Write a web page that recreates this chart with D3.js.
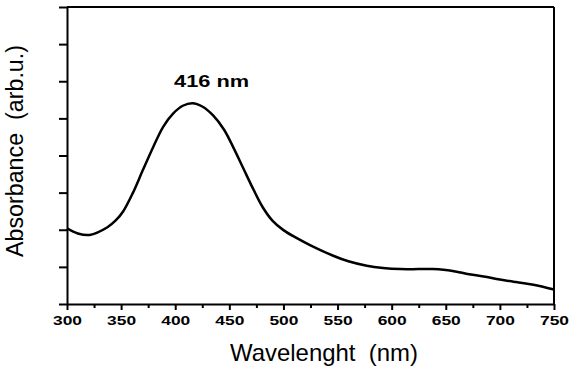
<!DOCTYPE html>
<html>
<head>
<meta charset="utf-8">
<script src="https://cdn.jsdelivr.net/npm/d3@7"></script>
<style>
  body { margin: 0; background: #fff; }
  text { font-family: "Liberation Sans", Arial, sans-serif; white-space: pre; }
</style>
</head>
<body>
<div id="chart"></div>
<script>
// absorbance spectrum
var wavelength = [300, 310, 321, 337, 345, 352, 361, 370, 380, 389, 398, 407, 416, 425, 435, 445, 454, 463, 472, 481, 490, 500, 512, 525, 546, 560, 577, 592, 608, 625, 638, 648, 660, 670, 685, 700, 715, 731, 750];
var absorbance = [2.04, 1.9, 1.86, 2.06, 2.25, 2.5, 3.0, 3.6, 4.25, 4.78, 5.13, 5.34, 5.41, 5.32, 5.08, 4.7, 4.2, 3.65, 3.1, 2.6, 2.24, 1.99, 1.78, 1.58, 1.3, 1.15, 1.03, 0.97, 0.94, 0.94, 0.94, 0.92, 0.87, 0.81, 0.74, 0.66, 0.59, 0.52, 0.39];
var xTicks = [300, 350, 400, 450, 500, 550, 600, 650, 700, 750];
var peakLabel = "416 nm";
var peakAt = 416;

var margin = {top: 7, right: 20, bottom: 65, left: 67},
    width = 574 - margin.left - margin.right,
    height = 369 - margin.top - margin.bottom;

var svg = d3.select("#chart")
  .append("svg")
    .attr("width", 574)
    .attr("height", 369)
  .append("g")
    .attr("transform", "translate(" + margin.left + "," + margin.top + ")");

var x = d3.scaleLinear().domain([300, 750]).range([0, width]);
var y = d3.scaleLinear().domain([0, 8]).range([height, 0]);

// minor ticks on x
svg.append("g")
  .attr("transform", "translate(0," + height + ")")
  .call(d3.axisBottom(x).tickValues(d3.range(325, 750, 50)).tickSize(4).tickFormat(""))
  .call(function(g) { g.select(".domain").remove(); })
  .selectAll("line").attr("stroke-width", 2);

// x axis
var xa = svg.append("g")
  .attr("transform", "translate(0," + height + ")")
  .call(d3.axisBottom(x).tickValues(xTicks).tickSize(6).tickSizeOuter(0));
xa.selectAll("line").attr("stroke-width", 2);
xa.select(".domain").attr("stroke-width", 2);
xa.selectAll("text")
  .attr("y", 21).attr("dy", 0)
  .attr("font-family", "'Liberation Sans', Arial, sans-serif")
  .attr("font-size", 12.5).attr("font-weight", "bold").attr("fill", "#000")
  .attr("textLength", 29).attr("lengthAdjust", "spacingAndGlyphs");

// y axis, no labels
var ya = svg.append("g")
  .call(d3.axisLeft(y).ticks(8).tickSize(8).tickFormat("").tickSizeOuter(0));
ya.selectAll("line").attr("stroke-width", 2);
ya.select(".domain").attr("stroke-width", 2);

// top and right frame
svg.append("line").attr("x1", 0).attr("x2", width).attr("y1", 0).attr("y2", 0)
  .attr("stroke", "#000").attr("stroke-width", 2);
svg.append("line").attr("x1", width).attr("x2", width).attr("y1", 0).attr("y2", height)
  .attr("stroke", "#000").attr("stroke-width", 2);

// spectrum
var line = d3.line()
  .x(function(d, i) { return x(wavelength[i]); })
  .y(function(d) { return y(d); })
  .curve(d3.curveCatmullRom.alpha(0.5));

svg.append("path")
  .datum(absorbance)
  .attr("fill", "none")
  .attr("stroke", "#000")
  .attr("stroke-width", 2.5)
  .attr("d", line);

// peak annotation
svg.append("text")
  .attr("x", x(peakAt) + 19)
  .attr("y", 80)
  .attr("text-anchor", "middle")
  .attr("font-size", 16)
  .attr("font-weight", "bold")
  .attr("textLength", 75).attr("lengthAdjust", "spacingAndGlyphs")
  .text(peakLabel);

// axis titles
svg.append("text")
  .attr("x", 257)
  .attr("y", height + 57)
  .attr("text-anchor", "middle")
  .attr("font-size", 24)
  .attr("textLength", 188).attr("lengthAdjust", "spacingAndGlyphs")
  .text("Wavelenght  (nm)");

svg.append("text")
  .attr("transform", "translate(" + (-44) + "," + 144 + ") rotate(-90)")
  .attr("text-anchor", "middle")
  .attr("font-size", 23)
  .attr("textLength", 212).attr("lengthAdjust", "spacingAndGlyphs")
  .text("Absorbance  (arb.u.)");
</script>
</body>
</html>
